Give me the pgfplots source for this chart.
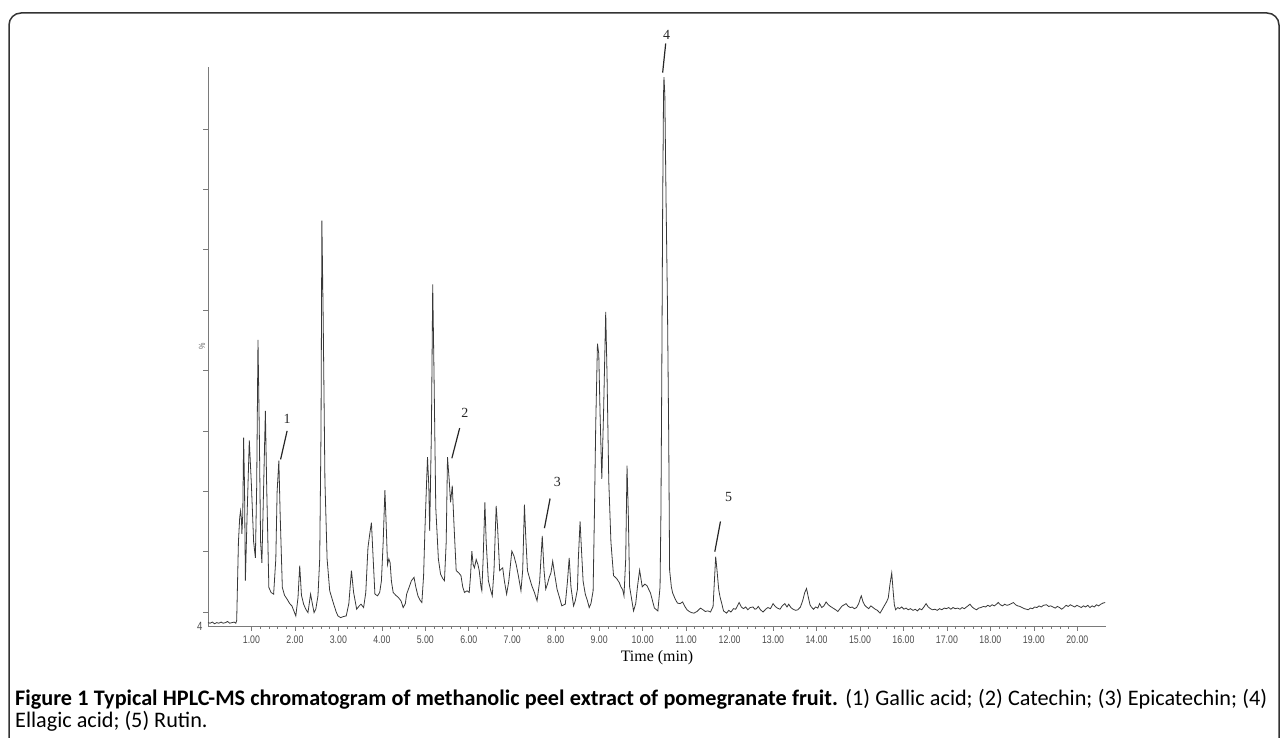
\documentclass[border=0pt]{standalone}
\usepackage{pgfplots}
\pgfplotsset{compat=1.18}
\usepackage{fontspec}
\setmainfont{Liberation Serif}
\newfontfamily\ticksf[FakeStretch=0.8]{Liberation Sans}
\newfontfamily\capf{Carlito}
\definecolor{axgray}{HTML}{7A7A7A}
\definecolor{trace}{HTML}{383838}
\newcommand\capone{\textbf{Figure 1 Typical HPLC-MS chromatogram of methanolic peel extract of pomegranate fruit.} (1) Gallic acid; (2) Catechin; (3) Epicatechin; (4)}
\newlength\capw
\settowidth\capw{\capf\fontsize{10}{10}\selectfont\capone}
\pgfmathsetmacro\capsize{10*1246/(\capw/1pt)*1.00375}
\begin{document}
\begin{tikzpicture}[x=1bp,y=1bp]
\path[use as bounding box] (0,0) rectangle (1282,738);
\clip (0,0) rectangle (1282,738);
\draw[line width=1.5bp, rounded corners=12bp, black!80] (9,-20) -- (9,725) -- (1279,725) -- (1279,-20);
\begin{axis}[
  at={(208bp,112bp)}, anchor=south west,
  scale only axis, width=898bp, height=559bp,
  xmin=0, xmax=20.66, ymin=0, ymax=100,
  axis x line=bottom, axis y line=left,
  axis line style={-, axgray, line width=0.9bp},
  xtick={1,2,...,20}, minor x tick num=4,
  ytick={2.5,13.3,24.1,34.9,45.7,56.5,67.3,78.1,88.9},
  yticklabels={},
  tick style={axgray, line width=0.7bp},
  tick align=outside,
  major tick length=5bp, minor tick length=3bp,
  /pgf/number format/assume math mode=true,
  xticklabel={\pgfmathprintnumber[fixed,fixed zerofill,precision=2]{\tick}},
  xticklabel style={font=\ticksf\fontsize{11}{11}\selectfont, text=black!70, yshift=-1bp},
  xlabel={Time (min)},
  xlabel style={font=\fontsize{16}{16}\selectfont, yshift=0bp},
  clip=false,
]
\addplot[trace, line width=0.8bp] coordinates {
(0.00,0.6)(0.05,0.5)(0.10,0.7)(0.15,0.4)(0.20,0.6)(0.25,0.5)(0.30,0.7)(0.35,0.5)(0.40,0.6)(0.45,0.8)(0.50,0.5)(0.55,0.6)(0.60,0.7)(0.64,0.5)(0.66,1.0)
(0.68,8)(0.70,15)(0.73,19.5)(0.75,20.6)(0.77,19)(0.78,16.5)(0.80,20)(0.82,33.7)(0.84,25)(0.86,8.1)(0.90,20)(0.95,33.2)(1.00,25)(1.05,15)(1.09,12.2)
(1.12,25)(1.15,51.2)(1.18,35)(1.21,15)(1.24,11.3)(1.28,25)(1.32,38.5)(1.35,25)(1.40,6.9)(1.45,6.0)(1.51,5.7)(1.56,12)(1.59,24)(1.63,29.6)(1.66,20)
(1.71,6.9)(1.76,5.5)(1.82,4.8)(1.88,4.0)(1.93,3.6)(1.98,2.6)(2.02,1.8)(2.07,5)(2.11,10.8)(2.15,5.5)(2.20,3.9)(2.25,3.0)(2.30,2.4)(2.36,5.7)(2.40,4.0)
(2.44,2.4)(2.48,3.0)(2.53,5.4)(2.57,12)(2.60,35)(2.62,72.5)(2.65,55)(2.69,26)(2.74,12)(2.80,6.3)(2.88,4.2)(2.95,2.5)(2.99,1.8)(3.05,1.5)(3.12,1.7)
(3.18,1.8)(3.24,4)(3.30,9.9)(3.35,6)(3.42,3.0)(3.48,3.6)(3.52,3.9)(3.58,3.3)(3.63,6)(3.68,14.0)(3.72,16.4)(3.76,18.5)(3.80,12)(3.84,5.7)(3.90,5.4)
(3.95,6)(3.99,8.1)(4.03,15)(4.07,24.3)(4.10,18)(4.13,11.0)(4.16,12)(4.19,11.3)(4.22,8)(4.26,6.0)(4.32,5.5)(4.38,5.1)(4.44,4.5)(4.49,3.3)(4.54,4)
(4.57,5.7)(4.63,7)(4.68,8.1)(4.74,8.7)(4.78,7)(4.83,5.4)(4.88,4.6)(4.92,4.2)(4.96,9)(4.99,17.0)(5.03,26)(5.05,30.2)(5.08,25)(5.10,17.0)(5.14,35)
(5.17,61.1)(5.20,45)(5.24,21.2)(5.30,12)(5.35,9.3)(5.40,8.5)(5.44,8.1)(5.48,15)(5.51,30.2)(5.55,26)(5.58,22.1)(5.62,25.1)(5.66,18)(5.71,9.9)(5.77,9.5)
(5.82,9.0)(5.86,7)(5.90,6.0)(5.96,6.3)(6.01,6.0)(6.04,9)(6.07,13.4)(6.10,11)(6.13,10.4)(6.17,11.9)(6.21,11)(6.24,9.9)(6.28,7)(6.30,6.3)(6.33,12)
(6.37,22.1)(6.40,15)(6.45,8.1)(6.50,6.5)(6.54,5.4)(6.58,10)(6.63,21.5)(6.66,18)(6.71,9.9)(6.75,10.2)(6.78,10.4)(6.82,8)(6.87,5.7)(6.92,8)(6.99,13.4)
(7.04,12.5)(7.09,11.0)(7.14,9)(7.20,6.3)(7.24,10)(7.28,21.7)(7.31,16)(7.35,9.9)(7.40,8.5)(7.45,7.2)(7.51,6)(7.57,4.5)(7.63,8)(7.69,16.1)(7.73,10)
(7.77,6.6)(7.81,7.5)(7.85,8.7)(7.89,9.5)(7.93,11.6)(7.97,9.5)(8.03,6.6)(8.09,5)(8.14,3.6)(8.19,3.8)(8.22,3.9)(8.27,8)(8.31,12.2)(8.35,7)(8.41,3.6)
(8.45,4.5)(8.50,6.6)(8.52,12)(8.56,18.7)(8.59,14)(8.63,8)(8.68,5.7)(8.73,4.5)(8.77,3.3)(8.81,4)(8.86,6.3)(8.89,20)(8.92,35.9)(8.96,50.5)(8.99,48.7)
(9.02,38)(9.06,26.3)(9.10,38)(9.15,56.2)(9.18,45)(9.22,26.0)(9.27,15)(9.33,9.0)(9.40,8.5)(9.46,7.8)(9.50,7)(9.54,6.5)(9.57,5.4)(9.61,12)(9.64,28.7)
(9.67,20)(9.70,7)(9.74,5.1)(9.79,2.7)(9.84,4)(9.88,7)(9.93,10.0)(9.99,7.0)(10.05,7.5)(10.10,7.2)(10.18,5.9)(10.27,3.2)(10.35,2.7)(10.40,7)(10.42,20)
(10.44,45)(10.46,75)(10.48,95)(10.49,98.2)(10.51,95)(10.54,75)(10.57,57.8)(10.60,33.3)(10.62,10)(10.66,7)(10.69,5.9)(10.75,4.8)(10.80,4.1)(10.86,4.0)
(10.92,4.3)(10.97,3.5)(11.02,2.9)(11.07,2.6)(11.12,2.4)(11.18,2.3)(11.25,2.6)(11.33,3.2)(11.39,2.9)(11.44,2.6)(11.50,2.7)(11.56,2.5)(11.62,3.5)(11.65,8)
(11.68,12.4)(11.71,10)(11.75,6.5)(11.78,5.2)(11.82,4)(11.86,2.7)(11.93,2.3)(11.98,2.8)(12.03,2.5)(12.09,3.1)(12.14,3.0)(12.18,3.6)(12.22,4.2)(12.27,3.4)
(12.32,3.1)(12.37,3.4)(12.42,2.9)(12.47,3.3)(12.54,3.4)(12.58,3.0)(12.62,3.1)(12.66,3.5)(12.71,2.9)(12.77,2.5)(12.83,3.0)(12.88,3.3)(12.94,3.1)(13.00,4.0)
(13.05,3.5)(13.10,3.2)(13.16,3.0)(13.21,3.6)(13.27,4.0)(13.32,3.4)(13.36,3.9)(13.41,3.3)(13.46,3.0)(13.52,2.8)(13.57,2.9)(13.63,3.4)(13.68,4.5)(13.73,6.0)
(13.77,6.7)(13.81,5.2)(13.85,3.8)(13.88,3.4)(13.93,3.0)(13.98,3.4)(14.03,3.2)(14.07,4.0)(14.12,3.3)(14.17,3.6)(14.22,4.3)(14.27,3.8)(14.32,3.5)(14.38,3.2)
(14.44,2.9)(14.49,2.6)(14.54,3.1)(14.59,3.6)(14.64,3.8)(14.68,4.0)(14.73,3.5)(14.78,3.3)(14.82,3.4)(14.87,3.1)(14.92,3.3)(14.97,4.0)(15.01,5.0)(15.03,5.4)
(15.07,4.3)(15.11,3.7)(15.15,3.4)(15.20,3.1)(15.25,3.6)(15.30,3.3)(15.35,3.0)(15.40,2.8)(15.46,2.3)(15.50,2.8)(15.55,3.5)(15.61,4.3)(15.65,5.0)(15.69,7.5)
(15.73,9.5)(15.76,6.5)(15.79,3.8)(15.82,2.9)(15.87,3.3)(15.91,3.1)(15.96,3.4)(16.01,3.0)(16.06,3.2)(16.11,2.9)(16.16,3.1)(16.22,2.8)(16.27,3.0)(16.32,2.7)
(16.37,3.1)(16.42,2.9)(16.47,3.4)(16.52,4.0)(16.57,3.4)(16.62,3.1)(16.67,2.9)(16.72,3.0)(16.78,2.8)(16.83,3.1)(16.88,2.9)(16.94,3.2)(16.99,3.1)(17.04,3.3)
(17.09,3.0)(17.14,3.3)(17.19,3.1)(17.25,3.2)(17.30,3.0)(17.35,3.3)(17.40,3.1)(17.45,3.4)(17.50,3.7)(17.53,3.9)(17.58,3.4)(17.63,3.1)(17.68,2.9)(17.73,3.2)
(17.78,3.3)(17.84,3.5)(17.89,3.4)(17.94,3.7)(17.99,3.5)(18.04,3.8)(18.09,3.6)(18.14,3.9)(18.18,4.2)(18.23,3.8)(18.28,3.6)(18.33,3.9)(18.38,3.7)(18.43,3.8)
(18.48,4.0)(18.53,4.2)(18.58,3.8)(18.63,3.6)(18.68,3.5)(18.73,3.3)(18.78,3.1)(18.83,3.0)(18.87,2.9)(18.92,3.2)(18.97,3.1)(19.02,3.4)(19.07,3.3)(19.12,3.6)
(19.17,3.4)(19.22,3.7)(19.29,3.8)(19.34,3.5)(19.39,3.6)(19.44,3.4)(19.49,3.2)(19.54,3.5)(19.59,3.3)(19.64,3.0)(19.69,3.3)(19.74,3.7)(19.79,3.5)(19.84,3.8)
(19.89,3.6)(19.94,3.4)(19.99,3.7)(20.04,3.5)(20.09,3.3)(20.14,3.6)(20.19,3.4)(20.24,3.7)(20.29,3.3)(20.34,3.6)(20.39,3.4)(20.44,3.8)(20.49,3.6)(20.54,3.9)
(20.59,4.1)(20.64,4.2)
};
\begin{scope}[every node/.style={font=\fontsize{14}{14}\selectfont, text=black!85}]
\node at (axis cs:1.82,37.0) {1};
\node at (axis cs:5.91,38.2) {2};
\node at (axis cs:8.04,25.7) {3};
\node at (axis cs:10.55,105.7) {4};
\node at (axis cs:11.98,23.0) {5};
\end{scope}
\draw[line width=1.2bp, black!85] (axis cs:1.82,34.9) -- (axis cs:1.67,29.8);
\draw[line width=1.2bp, black!85] (axis cs:5.79,35.4) -- (axis cs:5.61,30.0);
\draw[line width=1.2bp, black!85] (axis cs:7.87,22.8) -- (axis cs:7.74,17.5);
\draw[line width=1.2bp, black!85] (axis cs:10.53,104.2) -- (axis cs:10.46,99.0);
\draw[line width=1.2bp, black!85] (axis cs:11.79,18.7) -- (axis cs:11.66,13.3);
\node[anchor=east, font=\ticksf\fontsize{12}{12}\selectfont, text=black!70, xshift=-2bp] at (axis cs:0,0) {4};
\node[rotate=90, font=\ticksf\fontsize{9}{9}\selectfont, text=black!60] at ([xshift=-6bp]axis cs:0,50.1) {\%};
\end{axis}
\node[anchor=base west, inner sep=0pt] at (15,32) {\capf\fontsize{\capsize}{\capsize}\selectfont\makebox[1252bp][s]{\capone}};
\node[anchor=base west, inner sep=0pt] at (15,10) {\capf\fontsize{\capsize}{\capsize}\selectfont Ellagic acid; (5) Rutin.};
\end{tikzpicture}
\end{document}
